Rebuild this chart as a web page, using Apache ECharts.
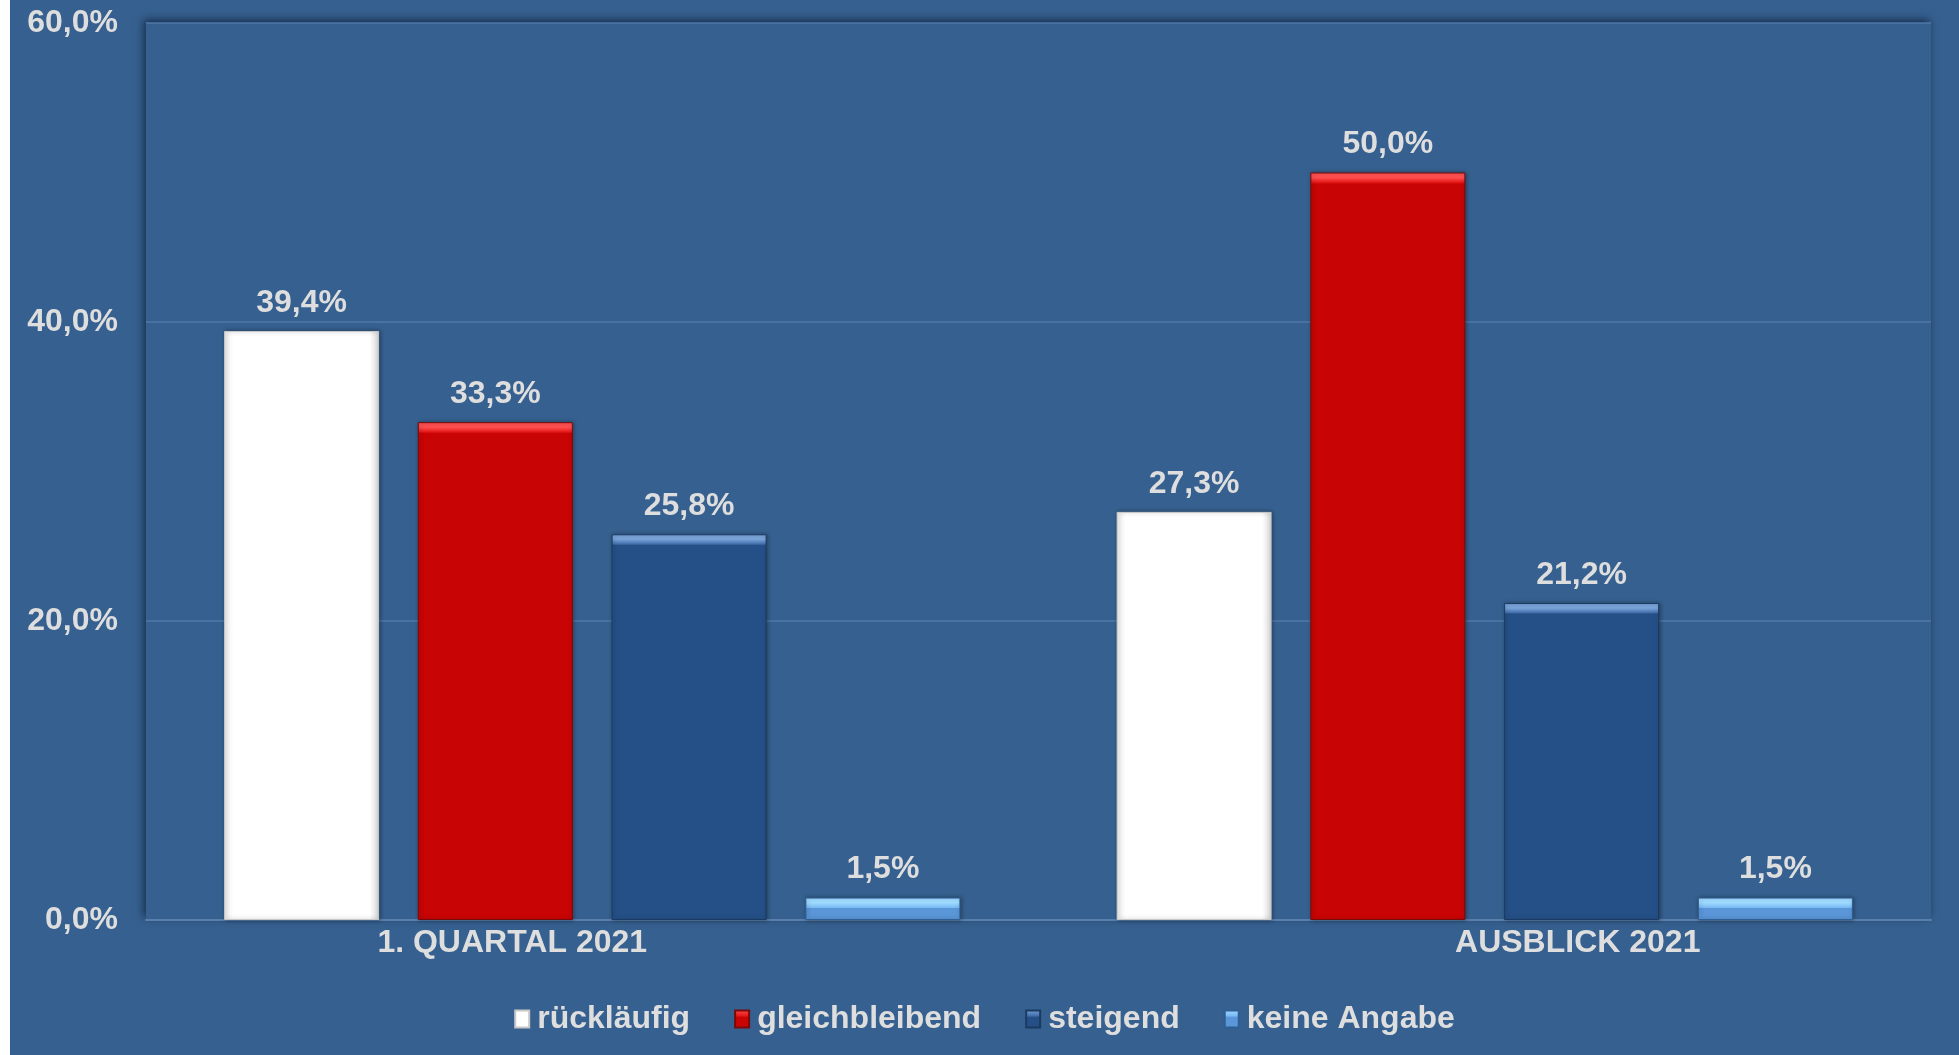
<!DOCTYPE html>
<html>
<head>
<meta charset="utf-8">
<script src="https://cdn.jsdelivr.net/npm/echarts@6/dist/echarts.min.js"></script>
<style>
  html, body {
    margin: 0;
    padding: 0;
    background: #ffffff;
  }
  #chart {
    position: absolute;
    left: 10px;
    top: 0;
    width: 1949px;
    height: 1055px;
  }
</style>
</head>
<body>
<div id="chart"></div>
<script>
const categories = ['1. QUARTAL 2021', 'AUSBLICK 2021']
const seriesNames = ['rückläufig', 'gleichbleibend', 'steigend', 'keine Angabe']
const ruecklaeufig = [39.4, 27.3]
const gleichbleibend = [33.3, 50.0]
const steigend = [25.8, 21.2]
const keineAngabe = [1.5, 1.5]
const yTicks = [0, 20, 40, 60]

const BG = '#36608f'
const TEXT = '#dedede'
const FONT = '"Liberation Sans", Arial, sans-serif'
const FS = 32

// plot height in px, used to keep the bevel strip at a fixed pixel size
const PLOT_H = 897
const Y_MAX = 60

// category labels sit off-centre in the original (left / right padding)
const labelPad = [[0, 160, 0, 0], [0, 0, 0, 186]]

const palette = [
  { top: '#ffffff', mid: '#ffffff', main: '#ffffff', border: '#c8c8c8' },
  { top: '#ff5050', mid: '#e41616', main: '#c80404', border: '#7a0a0a' },
  { top: '#7aa4da', mid: '#3f6ca8', main: '#255087', border: '#1b3a63' },
  { top: '#a0dcff', mid: '#78baf4', main: '#5a96d8', border: '#2f5f93' }
]

function fmt(v) {
  return v.toFixed(1).replace('.', ',') + '%'
}

function bevel(value, p) {
  const h = value / Y_MAX * PLOT_H
  const f = Math.min(0.45, 10 / h)
  return new echarts.graphic.LinearGradient(0, 0, 0, 1, [
    { offset: 0, color: p.top },
    { offset: f * 0.5, color: p.top },
    { offset: f, color: p.mid },
    { offset: Math.min(1, f + 0.002), color: p.main },
    { offset: 1, color: p.main }
  ])
}

function whiteFill() {
  return new echarts.graphic.LinearGradient(0, 0, 1, 0, [
    { offset: 0, color: '#eeeeee' },
    { offset: 0.06, color: '#ffffff' },
    { offset: 0.94, color: '#ffffff' },
    { offset: 1, color: '#d6d6d6' }
  ])
}

function legendFill(p) {
  return new echarts.graphic.LinearGradient(0, 0, 0, 1, [
    { offset: 0, color: p.top },
    { offset: 0.35, color: p.mid },
    { offset: 0.4, color: p.main },
    { offset: 1, color: p.main }
  ])
}

function makeSeries(name, values, idx) {
  const p = palette[idx]
  return {
    name: name,
    type: 'bar',
    barGap: '25%',
    barCategoryGap: '17.5%',
    itemStyle: {
      color: idx === 0 ? '#ffffff' : legendFill(p),
      borderColor: p.border,
      borderWidth: 1,
      shadowColor: 'rgba(0,0,0,0.35)',
      shadowBlur: 4,
      shadowOffsetX: 1,
      shadowOffsetY: 0
    },
    label: {
      show: true,
      position: 'top',
      distance: 12,
      color: TEXT,
      fontFamily: FONT,
      fontWeight: 'bold',
      fontSize: FS,
      formatter: d => fmt(d.value)
    },
    data: values.map(v => ({
      value: v,
      itemStyle: { color: idx === 0 ? whiteFill() : bevel(v, p) }
    }))
  }
}

const chart = echarts.init(document.getElementById('chart'))

chart.setOption({
  backgroundColor: BG,
  animation: false,
  textStyle: { fontFamily: FONT },
  grid: {
    show: true,
    left: 136,
    right: 28,
    top: 23,
    bottom: 135,
    backgroundColor: BG,
    borderWidth: 0,
    shadowColor: 'rgba(10,25,50,0.75)',
    shadowBlur: 8,
    shadowOffsetX: -2,
    shadowOffsetY: -3
  },
  legend: {
    bottom: 15,
    left: 'center',
    itemGap: 44,
    itemWidth: 14,
    itemHeight: 17,
    icon: 'rect',
    textStyle: {
      color: TEXT,
      fontFamily: FONT,
      fontWeight: 'bold',
      fontSize: FS,
      padding: [0, 0, 0, 3]
    },
    data: seriesNames
  },
  xAxis: {
    type: 'category',
    data: categories.map((c, i) => ({ value: c, textStyle: { padding: labelPad[i] } })),
    axisTick: { show: false },
    axisLine: { lineStyle: { color: '#5a7fab', width: 2 } },
    axisLabel: {
      color: TEXT,
      fontFamily: FONT,
      fontWeight: 'bold',
      fontSize: FS,
      margin: 7
    }
  },
  yAxis: {
    type: 'value',
    min: yTicks[0],
    max: yTicks[yTicks.length - 1],
    interval: yTicks[1] - yTicks[0],
    axisLine: { show: false },
    axisTick: { show: false },
    splitLine: { lineStyle: { color: '#5179a8', width: 1.5 } },
    axisLabel: {
      color: TEXT,
      fontFamily: FONT,
      fontWeight: 'bold',
      fontSize: FS,
      margin: 28,
      formatter: v => fmt(v)
    }
  },
  series: [
    makeSeries(seriesNames[0], ruecklaeufig, 0),
    makeSeries(seriesNames[1], gleichbleibend, 1),
    makeSeries(seriesNames[2], steigend, 2),
    makeSeries(seriesNames[3], keineAngabe, 3)
  ]
})
</script>
</body>
</html>
